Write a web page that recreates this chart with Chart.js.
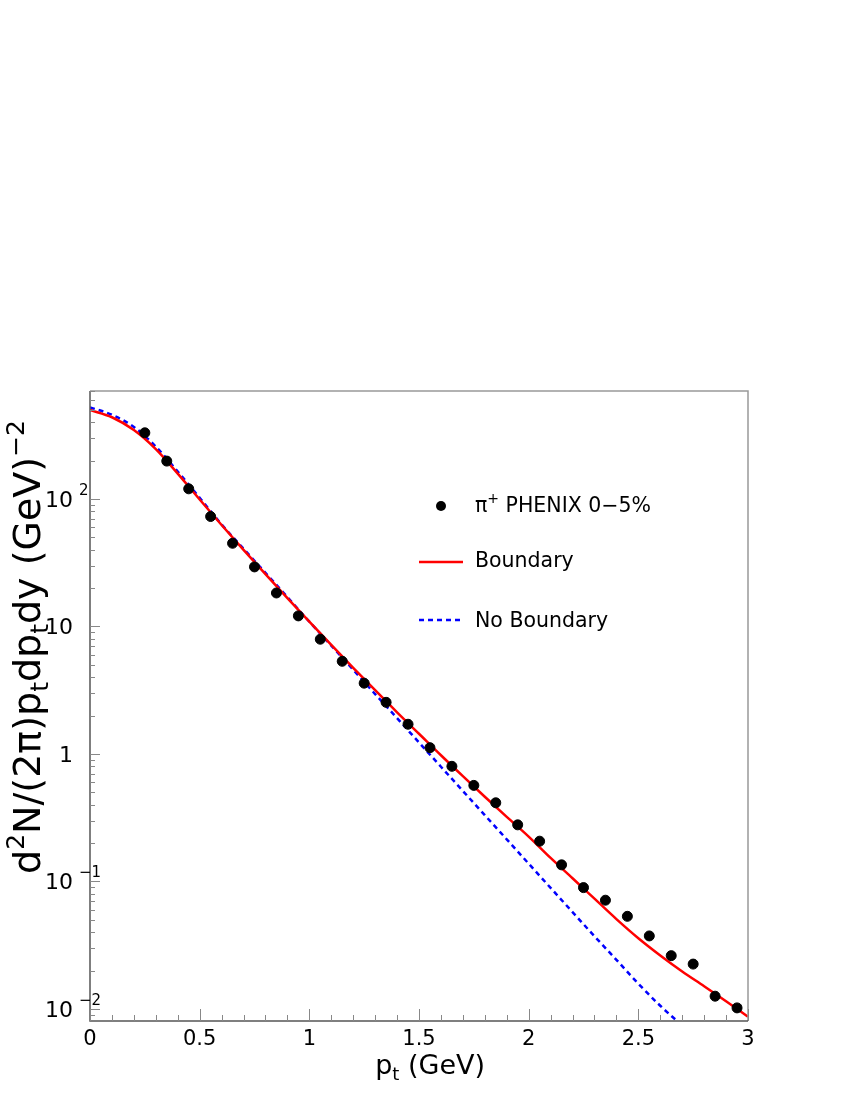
<!DOCTYPE html>
<html>
<head>
<meta charset="utf-8">
<title>pi+ pt spectrum</title>
<script src="https://cdn.jsdelivr.net/npm/chart.js@4.4.1/dist/chart.umd.min.js"></script>
<style>
  html, body { margin: 0; padding: 0; background: #fff; }
  canvas { display: block; }
</style>
</head>
<body>
<canvas id="spectrumChart" width="850" height="1100"></canvas>
<script>
// PHENIX pi+ 0-5% points
const phenixPt = [0.25, 0.35, 0.45, 0.55, 0.65, 0.75, 0.85, 0.95, 1.05, 1.15, 1.25, 1.35, 1.45, 1.55,
  1.65, 1.75, 1.85, 1.95, 2.05, 2.15, 2.25, 2.35, 2.45, 2.55, 2.65, 2.75, 2.85, 2.95];
const phenixYield = [330, 198, 120, 72.8, 44.9, 29.3, 18.3, 12.1, 7.94, 5.33, 3.59, 2.54, 1.71, 1.12,
  0.80, 0.567, 0.414, 0.278, 0.207, 0.135, 0.0895, 0.0713, 0.0533, 0.0374, 0.0262, 0.0225, 0.0126, 0.0102];

// model curves
const curvePt = [0, 0.1, 0.2, 0.3, 0.4, 0.5, 0.6, 0.7, 0.8, 0.9, 1.0, 1.1, 1.2, 1.3, 1.4, 1.5,
  1.6, 1.7, 1.8, 1.9, 2.0, 2.1, 2.2, 2.3, 2.4, 2.5, 2.6, 2.7, 2.8, 2.9, 3.0];
const boundaryYield = [498, 437, 347, 246, 158, 98.9, 62.4, 39.8, 25.7, 16.7, 10.9, 7.16, 4.74, 3.16, 2.12, 1.44,
  0.977, 0.670, 0.462, 0.321, 0.225, 0.153, 0.106, 0.0733, 0.0507, 0.0359, 0.0263, 0.0197, 0.0151, 0.0115, 0.0087];
const noBoundaryYield = [522, 457, 367, 257, 164, 102, 63.1, 40.7, 26.3, 17.0, 10.9, 7.08, 4.57, 2.95, 1.91, 1.23,
  0.794, 0.513, 0.331, 0.214, 0.138, 0.0891, 0.0575, 0.0372, 0.0243, 0.0158, 0.0106, 0.00741, null, null, null];

const xTickValues = [0, 0.5, 1, 1.5, 2, 2.5, 3];
const xTickLabels = ['0', '0.5', '1', '1.5', '2', '2.5', '3'];
const yTickValues = [0.01, 0.1, 1, 10, 100];
const yTickBase = ['10', '10', '1', '10', '10'];
const yTickExp = ['\u22122', '\u22121', '', '', '2'];

const FONT = '"DejaVu Sans", Verdana, sans-serif';

const toPoints = (xs, ys) => xs.map((x, i) => ({ x: x, y: ys[i] })).filter(p => p.y !== null);

// draws a run of text parts with sub/superscripts, returns width
const richText = (ctx, parts, x, y, size, draw) => {
  let cx = x;
  parts.forEach(p => {
    const s = p.s ? Math.round(size * 0.66) : size;
    const dy = p.s === 'sup' ? -size * 0.42 : (p.s === 'sub' ? size * 0.22 : 0);
    ctx.font = s + 'px ' + FONT;
    if (draw) ctx.fillText(p.t, cx, y + dy);
    cx += ctx.measureText(p.t).width;
  });
  return cx - x;
};

const rootFrame = {
  id: 'rootFrame',
  afterDraw(chart) {
    const ctx = chart.ctx;
    const area = chart.chartArea;
    const xs = chart.scales.x;
    const ys = chart.scales.y;
    ctx.save();

    // frame
    ctx.lineWidth = 1.5;
    ctx.strokeStyle = '#999';
    ctx.beginPath();
    ctx.moveTo(area.left, area.top);
    ctx.lineTo(area.right, area.top);
    ctx.lineTo(area.right, area.bottom);
    ctx.stroke();
    ctx.strokeStyle = '#555';
    ctx.beginPath();
    ctx.moveTo(area.left, area.top);
    ctx.lineTo(area.left, area.bottom);
    ctx.lineTo(area.right, area.bottom);
    ctx.stroke();

    // x ticks
    ctx.lineWidth = 1;
    ctx.strokeStyle = '#888';
    for (let i = 0; i <= 30; i++) {
      const px = Math.round(xs.getPixelForValue(i / 10)) + 0.5;
      const len = i % 5 === 0 ? 12 : 6;
      ctx.beginPath();
      ctx.moveTo(px, area.bottom);
      ctx.lineTo(px, area.bottom - len);
      ctx.stroke();
    }
    // y ticks
    for (let e = -3; e <= 2; e++) {
      for (let m = 1; m <= 9; m++) {
        const v = m * Math.pow(10, e);
        if (v < ys.min || v > ys.max) continue;
        const py = Math.round(ys.getPixelForValue(v)) + 0.5;
        const len = m === 1 ? 10 : 5;
        ctx.beginPath();
        ctx.moveTo(area.left, py);
        ctx.lineTo(area.left + len, py);
        ctx.stroke();
      }
    }

    ctx.fillStyle = '#000';
    ctx.textBaseline = 'alphabetic';

    // x tick labels
    ctx.font = '21px ' + FONT;
    ctx.textAlign = 'center';
    xTickValues.forEach((v, i) => {
      ctx.fillText(xTickLabels[i], xs.getPixelForValue(v), area.bottom + 24);
    });

    // y tick labels
    ctx.textAlign = 'left';
    yTickValues.forEach((v, i) => {
      const py = ys.getPixelForValue(v);
      ctx.font = '22px ' + FONT;
      const w = ctx.measureText(yTickBase[i]).width;
      ctx.fillText(yTickBase[i], area.left - 17 - w, py + 8);
      if (yTickExp[i]) {
        ctx.font = '15px ' + FONT;
        ctx.fillText(yTickExp[i], area.left - 11, py - 4);
      }
    });

    // axis titles
    const xTitle = [{ t: 'p' }, { t: 't', s: 'sub' }, { t: ' (GeV)' }];
    const xw = richText(ctx, xTitle, 0, 0, 27, false);
    richText(ctx, xTitle, 485 - xw, area.bottom + 53, 27, true);

    const yTitle = [{ t: 'd' }, { t: '2', s: 'sup' }, { t: 'N/(2\u03c0)p' }, { t: 't', s: 'sub' },
      { t: 'dp' }, { t: 't', s: 'sub' }, { t: 'dy (GeV)' }, { t: '\u22122', s: 'sup' }];
    const yw = richText(ctx, yTitle, 0, 0, 38, false);
    ctx.translate(40, 420 + yw);
    ctx.rotate(-Math.PI / 2);
    richText(ctx, yTitle, 0, 0, 38, true);
    ctx.setTransform(1, 0, 0, 1, 0, 0);

    // legend
    ctx.fillStyle = '#000';
    ctx.beginPath();
    ctx.arc(441, 506, 5, 0, Math.PI * 2);
    ctx.fill();
    richText(ctx, [{ t: '\u03c0' }, { t: '+', s: 'sup' }, { t: ' PHENIX 0\u22125%' }], 475, 512, 20.5, true);

    ctx.lineWidth = 2.5;
    ctx.strokeStyle = '#ff0000';
    ctx.beginPath();
    ctx.moveTo(419, 562);
    ctx.lineTo(463, 562);
    ctx.stroke();
    richText(ctx, [{ t: 'Boundary' }], 475, 567, 20.5, true);

    ctx.strokeStyle = '#0000ff';
    ctx.setLineDash([5, 4]);
    ctx.beginPath();
    ctx.moveTo(419, 620);
    ctx.lineTo(463, 620);
    ctx.stroke();
    ctx.setLineDash([]);
    richText(ctx, [{ t: 'No Boundary' }], 475, 627, 20.5, true);

    ctx.restore();
  }
};

document.addEventListener('DOMContentLoaded', () => {
  const el = document.getElementById('spectrumChart');
  new Chart(el, {
    type: 'scatter',
    data: {
      datasets: [
        {
          label: '\u03c0+ PHENIX 0-5%',
          data: toPoints(phenixPt, phenixYield),
          backgroundColor: '#000',
          borderColor: '#000',
          pointRadius: 5,
          pointHoverRadius: 5,
          showLine: false,
          order: 0,
        },
        {
          label: 'Boundary',
          data: toPoints(curvePt, boundaryYield),
          borderColor: '#ff0000',
          borderWidth: 2.5,
          pointRadius: 0,
          showLine: true,
          cubicInterpolationMode: 'monotone',
          order: 1,
        },
        {
          label: 'No Boundary',
          data: toPoints(curvePt, noBoundaryYield),
          borderColor: '#0000ff',
          borderWidth: 2.5,
          borderDash: [5, 4],
          pointRadius: 0,
          showLine: true,
          cubicInterpolationMode: 'monotone',
          order: 2,
        },
      ],
    },
    options: {
      responsive: false,
      animation: false,
      devicePixelRatio: 1,
      layout: {
        padding: { left: 90, right: 102, top: 391, bottom: 79 },
      },
      plugins: {
        legend: { display: false },
        tooltip: { enabled: false },
      },
      scales: {
        x: { type: 'linear', min: 0, max: 3, display: false },
        y: { type: 'logarithmic', min: 0.00805, max: 702, display: false },
      },
    },
    plugins: [rootFrame],
  });
});
</script>
</body>
</html>
